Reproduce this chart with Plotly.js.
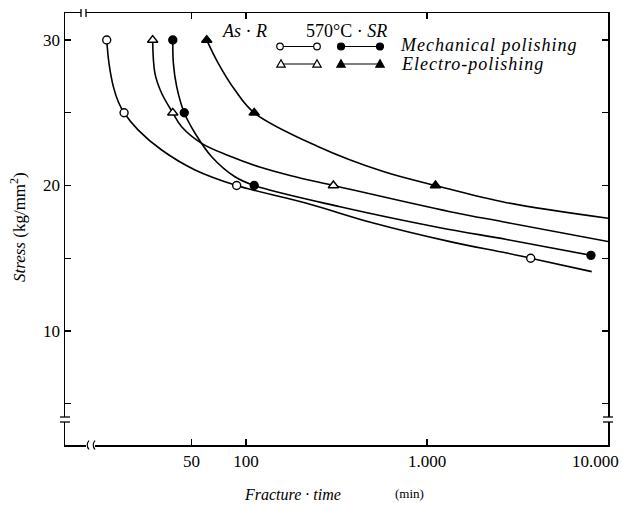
<!DOCTYPE html>
<html>
<head>
<meta charset="utf-8">
<script src="https://cdn.plot.ly/plotly-3.0.1.min.js"></script>
<style>html,body{margin:0;padding:0;background:#fff;}#chart{width:623px;height:505px;}</style>
</head>
<body>
<div id="chart"></div>
<script>
// ---- data ----
// Measured points: fracture time (min) vs stress (kg/mm2)
const asrMechX = [17.0, 21.2, 88.8, 3740];
const asrMechY = [30, 25, 20, 15];
const srMechX = [39.4, 45.6, 111, 8050];
const srMechY = [30, 25, 20, 15.2];
const asrElecX = [30.5, 39.4, 304];
const asrElecY = [30, 25, 20];
const srElecX = [60.7, 111, 1114];
const srElecY = [30, 25, 20];

// Drawn fitting curves
const asrMechCurveX = [17.0, 17.5, 18.5, 19.7, 21.2, 25.4, 34.2, 52.3, 88.8, 216, 505, 1340, 2756, 3740, 8130];
const asrMechCurveY = [30, 28.4, 26.8, 25.76, 25, 23.81, 22.44, 21.07, 20, 18.78, 17.42, 16.14, 15.36, 15, 14.08];
const srMechCurveX = [39.4, 39.7, 41.4, 45.6, 52.3, 64.6, 86.9, 111, 331, 1180, 2756, 8050];
const srMechCurveY = [30, 28.4, 26.8, 25, 23.59, 21.98, 20.6, 20, 18.54, 17.1, 16.29, 15.2];
const asrElecCurveX = [30.5, 31.4, 34.2, 39.4, 44.1, 56.9, 79.8, 119, 175, 304, 1340, 2756, 10000];
const asrElecCurveY = [30, 27.71, 26.34, 25, 24.04, 22.9, 22.06, 21.27, 20.69, 20, 18.2, 17.46, 16.15];
const srElecCurveX = [60.7, 70.3, 86.9, 111, 245.8, 573.7, 1114, 2756, 10000];
const srElecCurveY = [30, 28.4, 26.56, 25, 22.72, 20.96, 20, 18.82, 17.75];

const xTickVals = [50, 100, 1000];
const xTickText = ['50', '100', '1.000'];
const xLastTickText = '10.000';
const yTickVals = [10, 20, 30];
const yTickText = ['10', '20', '30'];
const yMinorStep = 5;

// ---- drawing ----
const FONT = 'Liberation Serif, Times New Roman, serif';
const L = 65, R = 608, T = 13, B = 445, W = 623, H = 505;
const P = (px, py) => [(px - L) / (R - L), (B - py) / (B - T)];

function curve(x, y) {
  return {x: x, y: y, type: 'scatter', mode: 'lines', line: {color: '#000', width: 1.6, shape: 'spline', smoothing: 1},
          hoverinfo: 'skip', showlegend: false};
}
function marks(x, y, sym, fill) {
  return {x: x, y: y, type: 'scatter', mode: 'markers',
          marker: {symbol: sym, size: sym.indexOf('triangle') >= 0 ? 9 : 8, color: fill, line: {color: '#000', width: 1.4}},
          showlegend: false};
}

const traces = [
  curve(asrMechCurveX, asrMechCurveY),
  curve(srMechCurveX, srMechCurveY),
  curve(asrElecCurveX, asrElecCurveY),
  curve(srElecCurveX, srElecCurveY),
  marks(asrMechX, asrMechY, 'circle', '#fff'),
  marks(srMechX, srMechY, 'circle', '#000'),
  marks(asrElecX, asrElecY, 'triangle-up', '#fff'),
  marks(srElecX, srElecY, 'triangle-up', '#000')
];

const shapes = [];
function lineP(x0, y0, x1, y1, w) {
  const a = P(x0, y0), b = P(x1, y1);
  shapes.push({type: 'line', xref: 'paper', yref: 'paper', x0: a[0], y0: a[1], x1: b[0], y1: b[1],
               line: {color: '#000', width: w || 1.3}, layer: 'above'});
}
function whiteRect(x0, y0, x1, y1) {
  const a = P(x0, y0), b = P(x1, y1);
  shapes.push({type: 'rect', xref: 'paper', yref: 'paper', x0: a[0], y0: a[1], x1: b[0], y1: b[1],
               fillcolor: '#fff', line: {width: 0}, layer: 'above'});
}
function circleP(cx, cy, r, fill) {
  const a = P(cx - r, cy + r), b = P(cx + r, cy - r);
  shapes.push({type: 'circle', xref: 'paper', yref: 'paper', x0: a[0], y0: a[1], x1: b[0], y1: b[1],
               fillcolor: fill, line: {color: '#000', width: 1.2}, layer: 'above'});
}
function triP(cx, cy, s, fill) {
  const p1 = P(cx, cy - s), p2 = P(cx - s, cy + s * 0.75), p3 = P(cx + s, cy + s * 0.75);
  shapes.push({type: 'path', xref: 'paper', yref: 'paper',
               path: `M${p1[0]},${p1[1]} L${p2[0]},${p2[1]} L${p3[0]},${p3[1]} Z`,
               fillcolor: fill, line: {color: '#000', width: 1.2}, layer: 'above'});
}
function arcP(x, y) {
  const a = P(x + 1.5, y - 4.5), c = P(x - 2, y), b = P(x + 1.5, y + 4.5);
  shapes.push({type: 'path', xref: 'paper', yref: 'paper',
               path: `M${a[0]},${a[1]} Q${c[0]},${c[1]} ${b[0]},${b[1]}`,
               line: {color: '#000', width: 1.2}, layer: 'above'});
}

// legend samples
lineP(280, 46.5, 317, 46.5, 1.1); circleP(280, 46.5, 3.3, '#fff'); circleP(317, 46.5, 3.3, '#fff');
lineP(341, 46.5, 380, 46.5, 1.1); circleP(341, 46.5, 3.5, '#000'); circleP(380, 46.5, 3.5, '#000');
lineP(281, 64, 317, 64, 1.1); triP(281, 64, 4.2, '#fff'); triP(317, 64, 4.2, '#fff');
lineP(341, 64, 380, 64, 1.1); triP(341, 64, 4.2, '#000'); triP(380, 64, 4.2, '#000');

// axis breaks
whiteRect(81, 10.5, 86, 15.5); lineP(81, 9, 81, 17); lineP(86, 9, 86, 17);
whiteRect(86, 442, 95, 448); arcP(87.5, 445); arcP(93.5, 445);
whiteRect(62, 417, 68, 422); lineP(60, 417, 70, 417); lineP(60, 422, 70, 422);
whiteRect(605, 417, 611, 422); lineP(603, 417, 613, 417); lineP(603, 422, 613, 422);

function ann(px, py, text, size, xanchor, extra) {
  const p = P(px, py);
  return Object.assign({xref: 'paper', yref: 'paper', x: p[0], y: p[1], text: text, showarrow: false,
          xanchor: xanchor || 'center', yanchor: 'middle', font: {family: FONT, size: size, color: '#000'}}, extra || {});
}

const annotations = [
  ann(244, 31, '<i>As</i> · <i>R</i>', 18),
  ann(346, 31, '570°C · <i>SR</i>', 18),
  ann(398, 45, '<span style="letter-spacing:1px"><i>Mechanical polishing</i></span>', 18, 'left'),
  ann(399, 64, '<span style="letter-spacing:1px"><i>Electro-polishing</i></span>', 18, 'left'),
  ann(595, 461, xLastTickText, 17),
  ann(292, 494, '<i>Fracture · time</i>', 16),
  ann(409, 493, '(min)', 13),
  ann(18, 227, '<i>Stress</i> (kg/mm<sup>2</sup>)', 17, 'center', {textangle: -90})
];

const layout = {
  width: W, height: H,
  margin: {l: L, r: W - R, t: T, b: H - B, pad: 0},
  paper_bgcolor: '#fff', plot_bgcolor: '#fff',
  showlegend: false,
  xaxis: {type: 'log', range: [1, 4], tickmode: 'array', tickvals: xTickVals, ticktext: xTickText,
          ticks: 'inside', ticklen: 6, tickwidth: 1.3, tickcolor: '#000',
          showline: true, linecolor: '#000', linewidth: 1.5, mirror: 'ticks',
          showgrid: false, zeroline: false,
          tickfont: {family: FONT, size: 17, color: '#000'}},
  yaxis: {range: [2.16, 31.86], tickmode: 'array', tickvals: yTickVals, ticktext: yTickText,
          ticks: 'inside', ticklen: 6, tickwidth: 1.3, tickcolor: '#000',
          showline: true, linecolor: '#000', linewidth: 1.5, mirror: 'ticks',
          showgrid: false, zeroline: false,
          minor: {dtick: yMinorStep, tick0: 0, ticks: 'inside', ticklen: 6, tickwidth: 1.3, tickcolor: '#000', showgrid: false},
          tickfont: {family: FONT, size: 17, color: '#000'}},
  shapes: shapes,
  annotations: annotations
};

Plotly.newPlot('chart', traces, layout, {displayModeBar: false, staticPlot: true});
</script>
</body>
</html>
